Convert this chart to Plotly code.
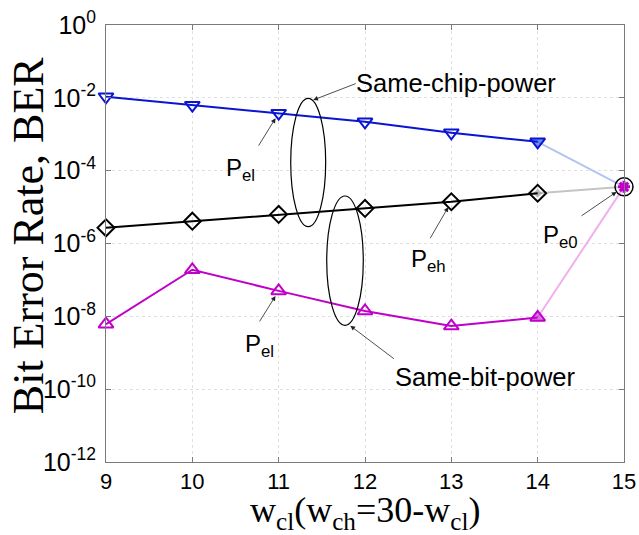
import numpy as np
import plotly.graph_objects as go

# ---- data ----
w_cl = [9, 10, 11, 12, 13, 14]
x_end = [14, 15]
p_el_chip = [1.07e-2, 6.3e-3, 3.8e-3, 2.2e-3, 1.1e-3, 6.2e-4]
p_eh = [2.7e-6, 4.1e-6, 6.3e-6, 9.2e-6, 1.4e-5, 2.4e-5]
p_el_bit = [6.1e-9, 1.9e-7, 5.0e-8, 1.4e-8, 5.4e-9, 9.3e-9]
p_e0 = 3.6e-5
x_ticks = [9, 10, 11, 12, 13, 14, 15]
y_tickvals = [1e0, 1e-2, 1e-4, 1e-6, 1e-8, 1e-10, 1e-12]
y_ticktext = ["10<sup>0</sup>", "10<sup>-2</sup>", "10<sup>-4</sup>", "10<sup>-6</sup>",
              "10<sup>-8</sup>", "10<sup>-10</sup>", "10<sup>-12</sup>"]

BLUE = "#0a14d2"
BLACK = "#000000"
MAG = "#c000c8"
SANS = "Liberation Sans, Arial, sans-serif"
SERIF = "Liberation Serif, Times New Roman, serif"

fig = go.Figure()

# light connecting segments 14 -> 15 (with filled-looking marker at 14)
for ys, col, lc, fillc, sym, fs in [(p_el_chip, BLUE, "#b4c4f2", "#3060d8", "triangle-down", 11),
                                    (p_eh, BLACK, "#c4c4c4", "#a0a0a0", "diamond", 7),
                                    (p_el_bit, MAG, "#f0b0ee", "#d040d8", "triangle-up", 11)]:
    fig.add_trace(go.Scatter(x=x_end, y=[ys[-1], p_e0], mode="lines+markers",
                             line=dict(color=lc, width=2),
                             marker=dict(symbol=sym, size=[fs, 0], color=fillc, line=dict(width=0)),
                             showlegend=False, hoverinfo="skip"))

# main series
series = [(p_el_chip, BLUE, "triangle-down-open"),
          (p_eh, BLACK, "diamond-open"),
          (p_el_bit, MAG, "triangle-up-open")]
for ys, col, sym in series:
    fig.add_trace(go.Scatter(x=w_cl, y=ys, mode="lines+markers", cliponaxis=False,
                             line=dict(color=col, width=2),
                             marker=dict(symbol=sym, size=13, color=col, line=dict(width=2, color=col)),
                             showlegend=False))

# P_e0 point
fig.add_trace(go.Scatter(x=[15], y=[p_e0], mode="markers",
                         marker=dict(symbol="circle-open", size=18, color=BLACK, line=dict(width=1.5)),
                         showlegend=False, cliponaxis=False))
fig.add_trace(go.Scatter(x=[15], y=[p_e0], mode="markers",
                         marker=dict(symbol="asterisk-open", size=10, color=MAG, line=dict(width=3, color=MAG)),
                         showlegend=False, cliponaxis=False))

# ellipses (axis-domain coordinates)
fig.add_shape(type="circle", xref="x domain", yref="y domain",
              x0=0.3566, x1=0.4241, y0=0.5384, y1=0.8323, line=dict(color="black", width=1.2))
fig.add_shape(type="circle", xref="x domain", yref="y domain",
              x0=0.4261, x1=0.4967, y0=0.3128, y1=0.6087, line=dict(color="black", width=1.2))

lg = np.log10
# arrows
arrows = [
    (11.40, -2.06, 44, -17, 0),
    (11, lg(p_el_chip[2]), -21, 34, 6),
    (13, lg(p_eh[4]), -22, 38, 6),
    (15, lg(p_e0), -44, 30, 9),
    (11, lg(p_el_bit[2]), -20, 32, 6),
    (11.83, -8.26, 45, 34, 0),
]
for x, y, ax, ay, so in arrows:
    fig.add_annotation(x=x, y=y, xref="x", yref="y", ax=ax, ay=ay, text="",
                       showarrow=True, arrowhead=2, arrowsize=1.2, arrowwidth=0.8,
                       arrowcolor="#222222", standoff=so)

# labels
labels = [
    (13.05, -1.59, "Same-chip-power", 25.5),
    (10.56, -3.98, "P<sub>el</sub>", 24),
    (12.73, -6.48, "P<sub>eh</sub>", 24),
    (14.26, -5.82, "P<sub>e0</sub>", 24),
    (10.78, -8.81, "P<sub>el</sub>", 24),
    (13.39, -9.66, "Same-bit-power", 25.5),
]
for x, y, t, fs in labels:
    fig.add_annotation(x=x, y=y, xref="x", yref="y", text=t, showarrow=False,
                       font=dict(family=SANS, size=fs, color="black"))

# axis titles
fig.add_annotation(x=0.5, y=-0.116, xref="paper", yref="paper", showarrow=False,
                   text="w<sub>cl</sub>(w<sub>ch</sub>=30-w<sub>cl</sub>)",
                   font=dict(family=SERIF, size=36, color="black"),
                   xanchor="center", yanchor="middle")
fig.add_annotation(x=-0.1506, y=0.519, xref="paper", yref="paper", showarrow=False,
                   text="Bit Error Rate, BER", textangle=-90,
                   font=dict(family=SERIF, size=44, color="black"),
                   xanchor="center", yanchor="middle")

axis_common = dict(showline=True, linecolor="#7a7a7a", linewidth=1, mirror="ticks",
                   ticks="inside", ticklen=5, tickcolor="#7a7a7a",
                   showgrid=True, gridcolor="#e0e0e0", griddash="dot", gridwidth=1,
                   zeroline=False, automargin=False, ticklabeloverflow="allow")

fig.update_xaxes(range=[9, 15], tickvals=x_ticks, ticktext=[str(v) for v in x_ticks],
                 tickfont=dict(family=SANS, size=22, color="black"), ticklabelstandoff=0,
                 **axis_common)
fig.update_yaxes(type="log", range=[-12, 0], tickvals=y_tickvals, ticktext=y_ticktext,
                 tickfont=dict(family=SANS, size=25, color="black"), ticklabelstandoff=4,
                 **axis_common)

fig.update_layout(width=639, height=535, margin=dict(l=106, r=15, t=25, b=73),
                  paper_bgcolor="white", plot_bgcolor="white", showlegend=False)

# remove the default page margin so the figure sits at the window's origin
fig.write_html("out.html", config={"displayModeBar": False},
               post_script="document.body.style.margin='0';")
